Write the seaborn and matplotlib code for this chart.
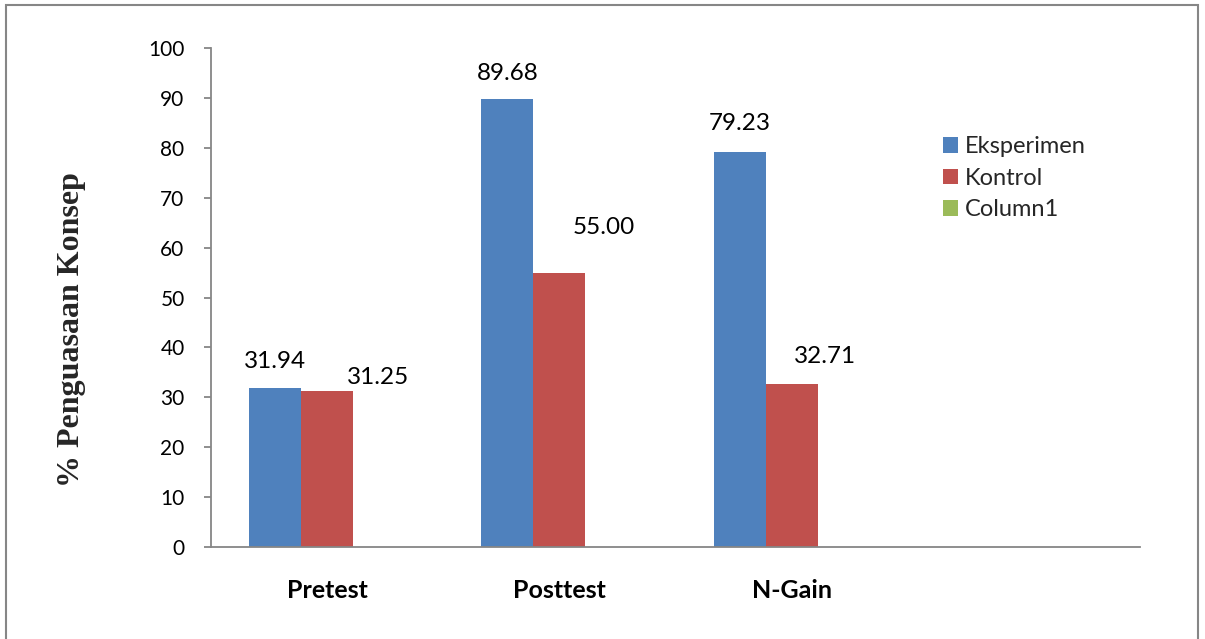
import matplotlib
matplotlib.use("Agg")
import matplotlib.pyplot as plt
import seaborn as sns
import pandas as pd
import numpy as np
from matplotlib.patches import Rectangle, Patch

categories = ["Pretest", "Posttest", "N-Gain", ""]
series = ["Eksperimen", "Kontrol", "Column1"]
eksperimen = [31.94, 89.68, 79.23]
kontrol = [31.25, 55.00, 32.71]
column1 = [np.nan, np.nan, np.nan]
y_ticks = list(range(0, 101, 10))

colors = {"Eksperimen": "#4F81BD", "Kontrol": "#C0504D", "Column1": "#9BBB59"}

rows = []
for i, c in enumerate(categories[:3]):
    rows.append({"cat": c, "series": "Eksperimen", "val": eksperimen[i]})
    rows.append({"cat": c, "series": "Kontrol", "val": kontrol[i]})
    rows.append({"cat": c, "series": "Column1", "val": column1[i]})
df = pd.DataFrame(rows)

sns.set_theme(style="white")
plt.rcParams["font.family"] = ["Lato", "DejaVu Sans"]

fig = plt.figure(figsize=(12.05, 6.39), dpi=100)
ax = fig.add_axes([211/1205, 1 - 547/639, (1140 - 211)/1205, (547 - 48)/639])

sns.barplot(data=df, x="cat", y="val", hue="series", order=categories,
            hue_order=series, palette=colors, width=0.672, saturation=1,
            errorbar=None, ax=ax, legend=False, linewidth=0)

ax.set_xlim(-0.5, 3.5)
ax.set_ylim(0, 100)
ax.set_yticks(y_ticks)
ax.set_yticklabels([str(t) for t in y_ticks], fontsize=15, color="black")

# category boundaries as major ticks, names as minor ticks
ax.set_xticks([-0.5, 0.5, 1.5, 2.5, 3.5])
ax.set_xticklabels([""] * 5)
ax.set_xticks([0, 1, 2], minor=True)
ax.set_xticklabels(categories[:3], minor=True, fontsize=18, fontweight="bold", color="black")
ax.tick_params(axis="x", which="major", length=6, width=1.3, color="#868686", direction="out")
ax.tick_params(axis="x", which="minor", length=0, pad=23)
ax.tick_params(axis="y", length=5, width=1.3, color="#868686", direction="out", pad=14, left=True)

for s in ["top", "right"]:
    ax.spines[s].set_visible(False)
for s in ["left", "bottom"]:
    ax.spines[s].set_color("#868686")
    ax.spines[s].set_linewidth(1.3)

ax.set_xlabel("")
ax.set_ylabel("% Penguasaan Konsep", fontsize=23, fontweight="bold",
              family=["Liberation Serif", "DejaVu Serif"])
ax.yaxis.label.set_va("center")
ax.yaxis.set_label_coords(72/1205, 1 - 330/639, transform=fig.transFigure)

# data labels (offsets reproduce the original label placement)
label_dx = {"Eksperimen": [0.0, 0.0, 0.0], "Kontrol": [0.22, 0.192, 0.144]}
label_dy = {"Eksperimen": [5.2, 5.3, 5.7], "Kontrol": [2.8, 9.0, 5.5]}
vals = {"Eksperimen": eksperimen, "Kontrol": kontrol}
bw = 0.672 / 3
for si, s in enumerate(["Eksperimen", "Kontrol"]):
    for i in range(3):
        xc = i + (si - 1) * bw
        v = vals[s][i]
        ax.text(xc + label_dx[s][i], v + label_dy[s][i], f"{v:.2f}",
                ha="center", va="center", fontsize=17.5, color="black")

handles = [Patch(facecolor=colors[s], edgecolor="none", label=s) for s in series]
leg = ax.legend(handles=handles, loc="upper left", bbox_to_anchor=(943/1205, 1 - 136/639),
                bbox_transform=fig.transFigure, frameon=False, fontsize=17,
                handlelength=0.64, handleheight=0.64, handletextpad=0.3,
                labelspacing=0.45, borderaxespad=0, borderpad=0)

fig.patches.append(Rectangle((6/1205, -0.05), (1198 - 6)/1205, 1.05 - 5/639,
                             transform=fig.transFigure, fill=False,
                             edgecolor="#868686", linewidth=1.5))

fig.savefig("out.png", dpi=100)
